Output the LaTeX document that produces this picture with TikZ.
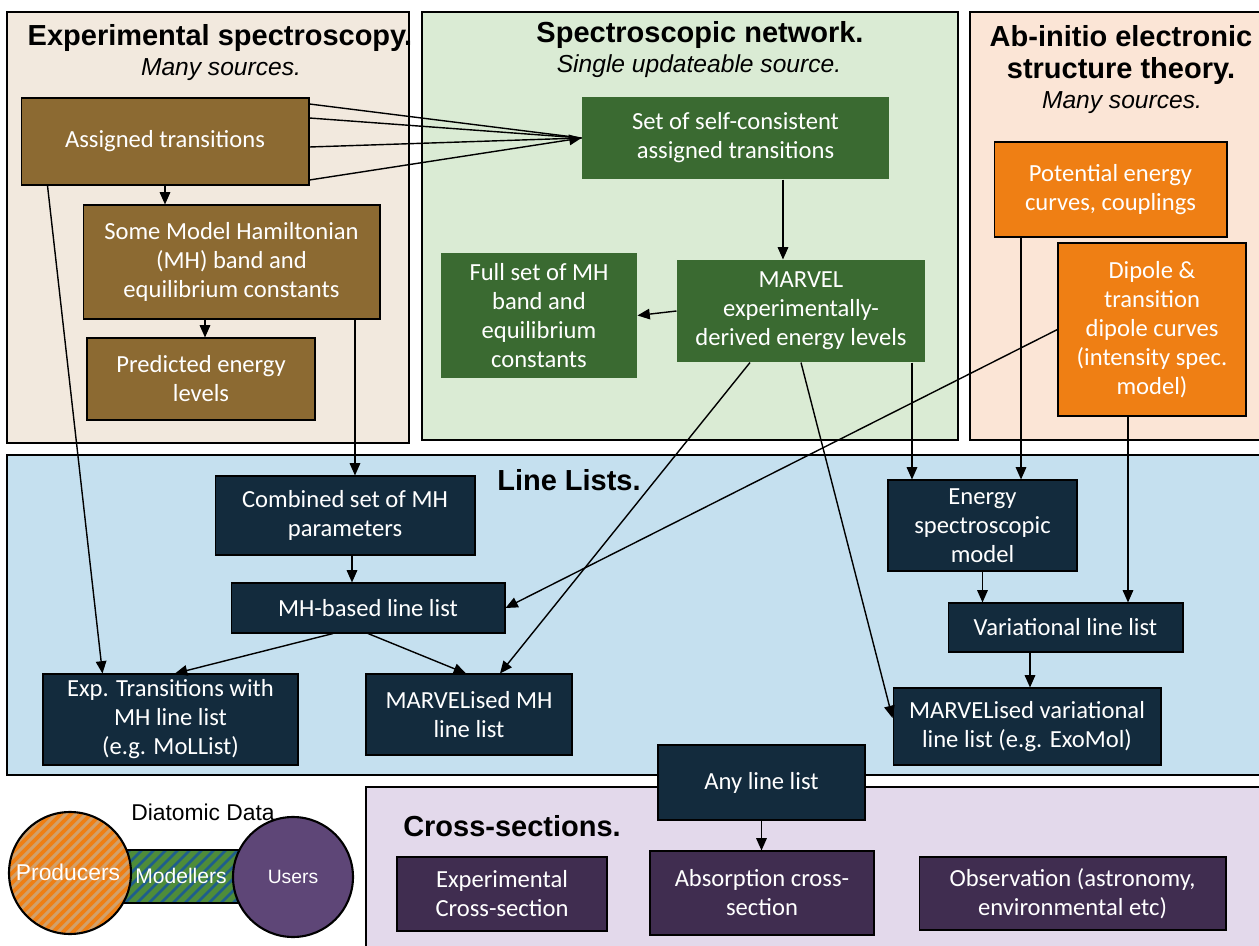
\documentclass[tikz,border=0pt]{standalone}
\usepackage{fontspec}
\setmainfont{Carlito}
\newfontfamily\arialfont{Liberation Sans}
\usetikzlibrary{arrows.meta}
\definecolor{expbg}{HTML}{F2E9DE}
\definecolor{netbg}{HTML}{DAEBD4}
\definecolor{abibg}{HTML}{FBE5D6}
\definecolor{linebg}{HTML}{C5E0EF}
\definecolor{crossbg}{HTML}{E3D9EB}
\definecolor{expbrown}{HTML}{8C6A32}
\definecolor{netgreen}{HTML}{3A6A31}
\definecolor{abiorange}{HTML}{EF7F14}
\definecolor{linenavy}{HTML}{132B3D}
\definecolor{crosspurple}{HTML}{402D50}
\definecolor{userpurple}{HTML}{5E4677}
\definecolor{prodstripe}{HTML}{D2A06A}
\definecolor{modblue}{HTML}{1F5E8C}
\definecolor{modgreen}{HTML}{4E8C3A}

\begin{document}
\begin{tikzpicture}
[x=0.02cm,y=-0.02cm,
 box/.style={rectangle,draw=black,line width=0.6pt,text=white,align=center,inner sep=2pt,font=\fontsize{14}{16.5}\selectfont},
 expbox/.style={box,fill=expbrown},
 netbox/.style={box,draw=none,fill=netgreen},
 abibox/.style={box,fill=abiorange},
 linebox/.style={box,fill=linenavy},
 crossbox/.style={box,fill=crosspurple},
 region/.style={draw=black,line width=1.1pt},
 title/.style={align=center,font=\arialfont\bfseries\fontsize{16.5}{18.5}\selectfont},
 sub/.style={font=\arialfont\itshape\fontsize{14}{16}\selectfont},
 legend/.style={text=white,font=\arialfont\fontsize{12}{14}\selectfont},
 arr/.style={-{Triangle[length=7pt,width=6pt]},line width=0.8pt}]
\useasboundingbox (0,0) rectangle (1259,946);
\draw[region,fill=expbg] (7,12) rectangle (409,443);
\draw[region,fill=netbg] (422,12) rectangle (958,440);
\draw[region,fill=abibg] (970,12) rectangle (1265,440);
\draw[region,fill=linebg] (7,455) rectangle (1265,775);
\draw[region,fill=crossbg] (366,787) rectangle (1265,952);

\node[title] (texp) at (220,38) {Experimental spectroscopy.};
\node[sub] (sexp) at (221,70) {Many sources.};
\node[title] (tnet) at (700,35) {Spectroscopic network.};
\node[sub] (snet) at (699,66) {Single updateable source.};
\node[title] (tabi) at (1121,55) {Ab-initio electronic\\structure theory.};
\node[sub] (sabi) at (1122,103) {Many sources.};
\node[title] (tline) at (569,480) {Line Lists.};
\node[title] (tcross) at (512,826) {Cross-sections.};

\fill[modblue] (120,850) rectangle (245,903);
\begin{scope}
\clip (120,850) rectangle (245,903);
\foreach \k in {0,...,18}
\draw[modgreen,line width=3.2pt] (\k*12+40,910) -- ++(80,-80);
\end{scope}
\draw[line width=1.1pt] (120,850) rectangle (245,903);
\fill[abiorange] (70,873) circle [radius=1.22cm];
\begin{scope}
\clip (70,873) circle [radius=1.22cm];
\foreach \k in {0,...,26}
\draw[prodstripe,line width=1.8pt] (\k*10-130,950) -- ++(160,-160);
\end{scope}
\draw[line width=1.2pt] (70,873) circle [radius=1.22cm];
\draw[line width=1.2pt,fill=userpurple] (293,877) circle [radius=1.2cm];
\node[font=\arialfont\fontsize{13}{15}\selectfont] (tdiat) at (203,812) {Diatomic Data};
\node[legend,font=\arialfont\fontsize{13}{15}\selectfont] (prod) at (68,872) {Producers};
\node[legend] (modl) at (181,876) {Modellers};
\node[legend,font=\arialfont\fontsize{11}{13}\selectfont] (user) at (293,877) {Users};

\node[expbox,minimum width=5.76cm,minimum height=1.74cm] (at) at (165,141.5) {Assigned transitions};
\node[expbox,minimum width=5.94cm,minimum height=2.28cm] (mh) at (231.5,262) {Some Model Hamiltonian\\(MH) band and\\equilibrium constants};
\node[expbox,minimum width=4.56cm,minimum height=1.64cm] (pred) at (201,379) {Predicted energy\\levels};
\node[netbox,minimum width=6.14cm,minimum height=1.64cm] (self) at (735.5,138) {Set of self-consistent\\assigned transitions};
\node[netbox,minimum width=3.92cm,minimum height=2.5cm] (full) at (539,315.5) {Full set of MH\\band and\\equilibrium\\constants};
\node[netbox,minimum width=4.96cm,minimum height=2.04cm] (marvel) at (801,311) {MARVEL\\experimentally-\\derived energy levels};
\node[abibox,minimum width=4.66cm,minimum height=1.9cm] (pec) at (1110.5,189.5) {Potential energy\\curves, couplings};
\node[abibox,minimum width=3.76cm,minimum height=3.46cm] (dip) at (1152,329.5) {Dipole \&\\transition\\dipole curves\\(intensity spec.\\model)};
\node[linebox,minimum width=5.2cm,minimum height=1.58cm] (comb) at (345,515.5) {Combined set of MH\\parameters};
\node[linebox,minimum width=5.48cm,minimum height=1cm] (mhll) at (368,608) {MH-based line list};
\node[linebox,minimum width=5.1cm,minimum height=1.82cm] (expll) at (170.5,719.5) {Exp. Transitions with\\MH line list\\(e.g. MoLList)};
\node[linebox,minimum width=4.12cm,minimum height=1.62cm] (marmh) at (469,714.5) {MARVELised MH\\line list};
\node[linebox,minimum width=3.78cm,minimum height=1.82cm] (esm) at (982.5,525.5) {Energy\\spectroscopic\\model};
\node[linebox,minimum width=4.7cm,minimum height=0.98cm] (var) at (1065.5,627.5) {Variational line list};
\node[linebox,minimum width=5.36cm,minimum height=1.54cm] (marvar) at (1027,726.5) {MARVELised variational\\line list (e.g. ExoMol)};
\node[linebox,minimum width=4.14cm,minimum height=1.5cm] (any) at (761.5,782.5) {Any line list};
\node[crossbox,minimum width=4.2cm,minimum height=1.48cm] (xexp) at (502,894) {Experimental\\Cross-section};
\node[crossbox,minimum width=4.48cm,minimum height=1.68cm] (xabs) at (762,893) {Absorption cross-\\section};
\node[crossbox,minimum width=6.14cm,minimum height=1.46cm] (xobs) at (1072.5,893.5) {Observation (astronomy,\\environmental etc)};

\foreach \s in {0.75,0.47,-0.11}
\draw[line width=0.8pt] ([yshift=\s cm]at.east) -- (self.west);
\draw[arr] ([yshift=-0.77cm]at.east) -- (self.west);
\foreach \from/\to in {at/mh,esm/var,any/xabs}
\draw[arr] (\from.south) -- (\from.south |- \to.north);
\foreach \from/\to/\dx in {mh/pred/-0.53,mh/comb/2.47,self/marvel/0.95,marvel/esm/2.22,pec/esm/-1.79,dip/var/-0.48,comb/mhll/0.14,var/marvar/-0.71}
\draw[arr] ([xshift=\dx cm]\from.south) -- ([xshift=\dx cm]\from.south |- \to.north);
\draw[arr] ([xshift=0.54cm]at.south west) -- ([xshift=1.2cm]expll.north west);
\draw[arr] (marvel.west) -- (full.east);
\draw[arr] ([xshift=-1.02cm]marvel.south) -- ([xshift=0.62cm]marmh.north);
\draw[arr] (marvel.south) -- ([yshift=0.17cm]marvar.west);
\draw[arr] (dip.west) -- (mhll.east);
\draw[arr] ([xshift=-0.7cm]mhll.south) -- ([xshift=0.09cm]expll.north);
\draw[arr] (mhll.south) -- ([xshift=-0.06cm]marmh.north);
\end{tikzpicture}
\end{document}
